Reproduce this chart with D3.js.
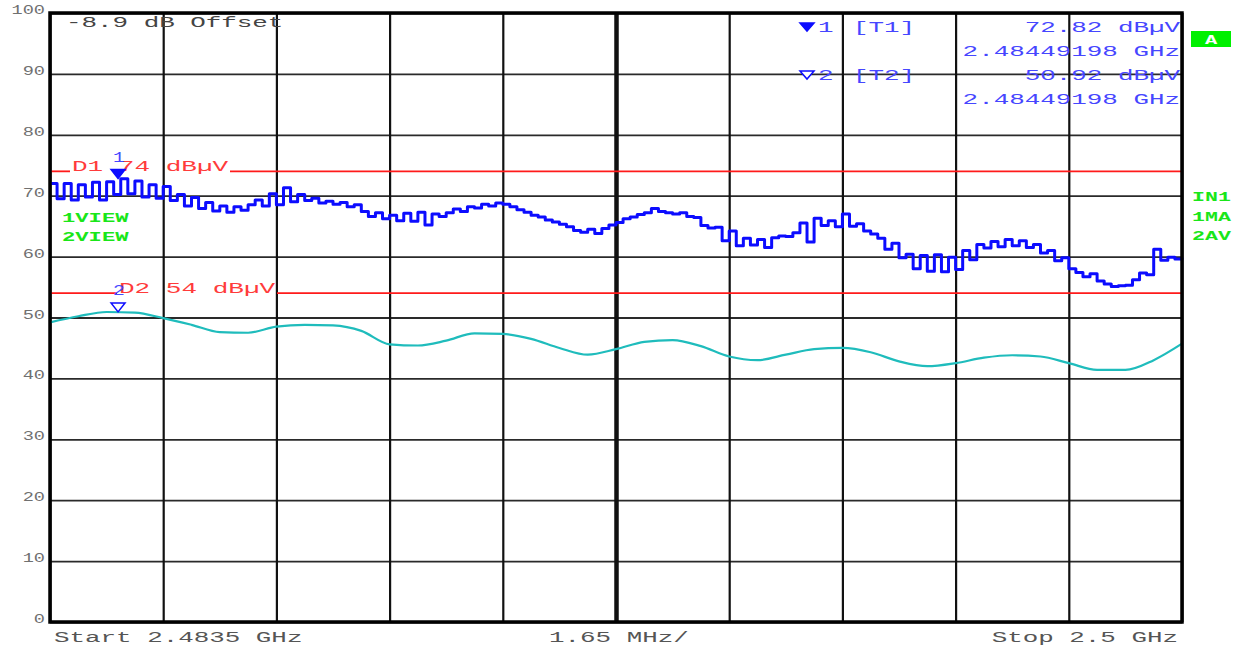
<!DOCTYPE html>
<html>
<head>
<meta charset="utf-8">
<script src="https://cdn.jsdelivr.net/npm/d3@7"></script>
<style>
  html, body { margin: 0; padding: 0; background: #fff; }
  svg { display: block; font-family: "Liberation Mono", "DejaVu Sans Mono", monospace; }
</style>
</head>
<body>
<svg id="chart" width="1239" height="647"></svg>
<script>
// ── Data ──────────────────────────────────────────────────────────
var START_GHZ = 2.4835;
var STOP_GHZ = 2.5;
var REF_OFFSET = "-8.9 dB Offset";
var SPAN_PER_DIV = "1.65 MHz/";

var levelTicks = [0, 10, 20, 30, 40, 50, 60, 70, 80, 90, 100];

// trace 1, max hold (dBµV), evenly spaced over the sweep
var trace1 = [
  72.0, 69.5, 72.0, 69.3, 71.8, 69.8, 72.2, 69.3, 72.3, 70.2,
  72.8, 70.3, 72.4, 69.8, 71.8, 69.6, 71.5, 69.2, 70.2, 68.3,
  69.7, 67.9, 68.9, 67.5, 68.3, 67.3, 68.2, 67.6, 68.5, 69.3,
  68.3, 70.3, 68.5, 71.3, 69.0, 70.2, 69.2, 69.6, 68.8, 69.1,
  68.6, 68.9, 68.2, 68.5, 67.4, 66.6, 67.2, 66.2, 66.8, 65.9,
  67.1, 65.8, 67.3, 65.2, 67.0, 66.6, 67.2, 67.8, 67.4, 68.2,
  68.0, 68.6, 68.3, 68.8, 68.6, 68.2, 67.7, 67.3, 66.8, 66.5,
  66.0, 65.7, 65.3, 64.9, 64.3, 64.0, 64.5, 63.8, 64.6, 65.2,
  65.6, 66.2, 66.5, 66.9, 67.2, 67.9, 67.4, 67.2, 67.0, 67.2,
  66.6, 66.4, 65.1, 64.7, 64.8, 62.6, 64.2, 61.8, 63.0, 61.9,
  62.8, 61.5, 63.1, 63.4, 63.3, 63.9, 65.5, 62.4, 66.3, 65.1,
  65.9, 64.9, 67.0, 65.0, 65.4, 64.2, 63.7, 63.0, 61.2, 62.2,
  59.8, 60.4, 58.0, 60.2, 57.6, 60.3, 57.5, 59.9, 57.9, 61.0,
  59.5, 62.0, 61.4, 62.5, 61.6, 62.8, 61.8, 62.6, 61.5, 62.0,
  60.6, 61.0, 59.3, 59.8, 58.0, 57.4, 56.7, 57.2, 56.0, 55.5,
  55.1, 55.2, 55.3, 56.2, 57.3, 57.0, 61.2, 59.4, 59.9, 59.6,
  59.8
];

// trace 2, average (dBµV), evenly spaced over the sweep
var trace2 = [
  49.2, 50.2, 50.9, 50.8, 49.9, 48.8, 47.6, 47.5, 48.5, 48.8,
  48.7, 47.8, 45.6, 45.4, 46.2, 47.4, 47.3, 46.5, 45.0, 43.9,
  44.8, 46.0, 46.3, 45.3, 43.6, 43.0, 43.9, 44.8, 45.0, 44.3,
  42.8, 42.0, 42.5, 43.4, 43.8, 43.6, 42.5, 41.4, 41.4, 43.0,
  45.7
];

var limitLines = [
  { name: "D1", level: 74, label: "D1 74 dBµV", gap: [70, 230] },
  { name: "D2", level: 54, label: "D2 54 dBµV", gap: [117, 277] }
];

var markers = [
  { id: "1", tag: "[T1]", freq: 2.48449198, level: 72.82, filled: true },
  { id: "2", tag: "[T2]", freq: 2.48449198, level: 50.92, filled: false }
];

var leftFlags = ["1VIEW", "2VIEW"];
var rightFlags = ["IN1", "1MA", "2AV"];

// ── Layout ───────────────────────────────────────────────────────
var LEFT = 50, RIGHT = 1182, TOP = 13, BOTTOM = 622;
var BLUE = "#0c0cff";
var BLUE_TEXT = "#4646ff";
var CYAN = "#1fbcbc";
var RED = "#ff1a1a";
var GREEN = "#19e619";

var svg = d3.select("#chart");

var x = d3.scaleLinear().domain([START_GHZ, STOP_GHZ]).range([LEFT, RIGHT]);
var y = d3.scaleLinear().domain([0, 100]).range([BOTTOM, TOP]);

function sweep(values) {
  var n = values.length;
  return values.map(function (v, i) {
    return { f: START_GHZ + (STOP_GHZ - START_GHZ) * i / (n - 1), v: v };
  });
}

// stretched monospace text, like the analyser's plotter font
function txt(g, px, py, s, o) {
  o = o || {};
  return g.append("text")
    .attr("transform", "translate(" + px + "," + py + ") scale(" + (o.sx || 1.85) + ",1)")
    .attr("text-anchor", o.anchor || "start")
    .attr("font-size", o.size || 14)
    .attr("font-weight", o.weight || "normal")
    .attr("fill", o.color || "#444")
    .text(s);
}

// ── Grid ─────────────────────────────────────────────────────────
var grid = svg.append("g");

grid.append("g")
  .attr("transform", "translate(" + LEFT + ",0)")
  .call(d3.axisLeft(y).tickValues(levelTicks).tickSize(-(RIGHT - LEFT)).tickFormat(""))
  .call(function (g) {
    g.select(".domain").remove();
    g.selectAll("line").attr("stroke", "#2a2a2a").attr("stroke-width", 1.8);
  });

var freqTicks = d3.range(11).map(function (i) { return START_GHZ + (STOP_GHZ - START_GHZ) * i / 10; });

grid.append("g")
  .attr("transform", "translate(0," + BOTTOM + ")")
  .call(d3.axisBottom(x).tickValues(freqTicks).tickSize(-(BOTTOM - TOP)).tickFormat(""))
  .call(function (g) {
    g.select(".domain").remove();
    g.selectAll("line")
      .attr("stroke", "#111")
      .attr("stroke-width", function (d, i) { return i === 5 ? 4.5 : 2.2; });
  });

// level labels
var labels = svg.append("g");
levelTicks.forEach(function (t) {
  txt(labels, 45, y(t) + 1, String(t), { anchor: "end", size: 12, sx: 1.55, color: "#707070" });
});

// ── Limit lines ──────────────────────────────────────────────────
var limits = svg.append("g");
limitLines.forEach(function (d) {
  var ly = y(d.level);
  [[LEFT, d.gap[0]], [d.gap[1], RIGHT]].forEach(function (seg) {
    limits.append("line")
      .attr("x1", seg[0]).attr("x2", seg[1])
      .attr("y1", ly).attr("y2", ly)
      .attr("stroke", RED).attr("stroke-width", 1.8);
  });
  txt(limits, d.gap[0] + 2, ly, d.label, { color: "#ff3b3b", sx: 1.86 });
});

// ── Traces ───────────────────────────────────────────────────────
var avgLine = d3.line()
  .x(function (d) { return x(d.f); })
  .y(function (d) { return y(d.v); })
  .curve(d3.curveMonotoneX);

svg.append("path")
  .datum(sweep(trace2))
  .attr("d", avgLine)
  .attr("fill", "none")
  .attr("stroke", CYAN)
  .attr("stroke-width", 2.2);

var maxLine = d3.line()
  .x(function (d) { return x(d.f); })
  .y(function (d) { return y(d.v); })
  .curve(d3.curveStepAfter);

svg.append("path")
  .datum(sweep(trace1))
  .attr("d", maxLine)
  .attr("fill", "none")
  .attr("stroke", BLUE)
  .attr("stroke-width", 3)
  .attr("stroke-linejoin", "round");

// ── Frame ────────────────────────────────────────────────────────
svg.append("rect")
  .attr("x", LEFT).attr("y", TOP)
  .attr("width", RIGHT - LEFT).attr("height", BOTTOM - TOP)
  .attr("fill", "none")
  .attr("stroke", "#000")
  .attr("stroke-width", 3.5);

// ── Markers ──────────────────────────────────────────────────────
var mk = svg.append("g");
markers.forEach(function (d) {
  var mx = x(d.freq), my = y(d.level);
  mk.append("path")
    .attr("d", "M" + (mx - 7) + "," + (my - 9) + "L" + (mx + 7) + "," + (my - 9) + "L" + mx + "," + my + "Z")
    .attr("fill", d.filled ? BLUE : "#fff")
    .attr("stroke", BLUE)
    .attr("stroke-width", 1.5);
  txt(mk, mx - 5, my - 17, d.id, { color: BLUE_TEXT, sx: 1.4 });
});

// marker readout, top right
var info = svg.append("g");
markers.forEach(function (d, i) {
  var by = 32 + i * 48;
  var tx = 807;
  info.append("path")
    .attr("d", "M" + (tx - 7) + "," + (by - 9) + "L" + (tx + 7) + "," + (by - 9) + "L" + tx + "," + (by - 1) + "Z")
    .attr("fill", d.filled ? BLUE : "#fff")
    .attr("stroke", BLUE)
    .attr("stroke-width", 1.5);
  txt(info, 818, by, d.id, { color: BLUE_TEXT });
  txt(info, 853, by, d.tag, { color: BLUE_TEXT });
  txt(info, 1180, by, d3.format(".2f")(d.level) + " dBµV", { anchor: "end", color: BLUE_TEXT });
  txt(info, 1180, by + 24, d3.format(".8f")(d.freq) + " GHz", { anchor: "end", color: BLUE_TEXT });
});

// ── Annotations ──────────────────────────────────────────────────
txt(svg, 66, 27, REF_OFFSET, { color: "#444" });

svg.append("rect")
  .attr("x", 1191).attr("y", 31)
  .attr("width", 40).attr("height", 16)
  .attr("fill", "#00f000");
txt(svg, 1211, 44, "A", { anchor: "middle", color: "#fff", size: 12, weight: "bold", sx: 1.7 });

leftFlags.forEach(function (s, i) {
  txt(svg, 62, 222 + i * 19, s, { color: GREEN, size: 12, weight: "bold", sx: 1.85 });
});
rightFlags.forEach(function (s, i) {
  txt(svg, 1192, 201 + i * 19.5, s, { color: GREEN, size: 12, weight: "bold", sx: 1.8 });
});

txt(svg, 54, 642, "Start " + START_GHZ + " GHz", { color: "#555" });
txt(svg, 549, 642, SPAN_PER_DIV, { color: "#555" });
txt(svg, 1178, 642, "Stop " + STOP_GHZ + " GHz", { anchor: "end", color: "#555" });
</script>
</body>
</html>
